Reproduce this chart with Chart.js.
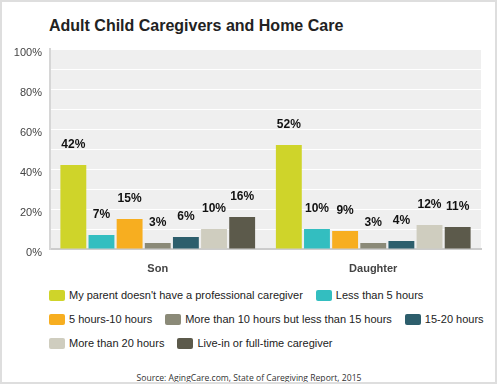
<!DOCTYPE html>
<html>
<head>
<meta charset="utf-8">
<script src="https://cdn.jsdelivr.net/npm/chart.js@4.4.1/dist/chart.umd.min.js"></script>
<style>
    body { margin: 0; background: #fff; }
    #wrap { position: relative; width: 498px; height: 385px; overflow: hidden; font-family: "Liberation Sans", Arial, sans-serif; }
    #frame { position: absolute; left: 0; top: 0; width: 497px; height: 384px; box-sizing: border-box; border: 2px solid #dedede; pointer-events: none; }
    #title { position: absolute; left: 49px; top: 18px; font-size: 16px; line-height: 16px; font-weight: bold; color: #222; white-space: nowrap; }
    #chartBox { position: absolute; left: 0; top: 0; width: 498px; height: 280px; }
    #legend { position: absolute; left: 49px; top: 289px; width: 445px; display: flex; flex-wrap: wrap; row-gap: 12px; column-gap: 13px; }
    .item { display: flex; align-items: center; height: 12px; font-size: 11px; color: #222; white-space: nowrap; }
    .swatch { width: 16px; height: 11px; border-radius: 2px; margin-right: 4px; }
    #source { position: absolute; left: 0; width: 498px; top: 372px; text-align: center; font-family: "Open Sans", sans-serif; font-size: 8.6px; line-height: 12px; color: #333; }
</style>
</head>
<body>
<div id="wrap">
    <div id="title">Adult Child Caregivers and Home Care</div>
    <div id="chartBox"><canvas id="careChart"></canvas></div>
    <div id="legend"></div>
    <div id="source">Source: AgingCare.com, State of Caregiving Report, 2015</div>
    <div id="frame"></div>
</div>
<script>
// Chart data
const categories = ['Son', 'Daughter'];
const seriesNames = [
    "My parent doesn't have a professional caregiver",
    'Less than 5 hours',
    '5 hours-10 hours',
    'More than 10 hours but less than 15 hours',
    '15-20 hours',
    'More than 20 hours',
    'Live-in or full-time caregiver'
];
const seriesColors = ['#cfd42a', '#33bec0', '#f7ae20', '#8b8a78', '#2d5e6c', '#cfcdbf', '#5c5a4b'];
const sonValues = [42, 7, 15, 3, 6, 10, 16];
const daughterValues = [52, 10, 9, 3, 4, 12, 11];
const yTicks = [0, 20, 40, 60, 80, 100];

// grey plot background
const plotBackground = {
    id: 'plotBackground',
    beforeDraw(chart) {
        const { ctx, chartArea } = chart;
        ctx.save();
        ctx.fillStyle = '#efefef';
        ctx.fillRect(chartArea.left, chartArea.top, chartArea.right - chartArea.left, chartArea.bottom - chartArea.top);
        ctx.restore();
    }
};

// percent labels above bars
const valueLabels = {
    id: 'valueLabels',
    afterDatasetsDraw(chart) {
        const ctx = chart.ctx;
        ctx.save();
        ctx.font = 'bold 12px "Liberation Sans", Arial, sans-serif';
        ctx.fillStyle = '#111';
        ctx.textAlign = 'center';
        ctx.textBaseline = 'middle';
        chart.data.datasets.forEach((ds, i) => {
            chart.getDatasetMeta(i).data.forEach((bar, j) => {
                ctx.fillText(ds.data[j] + '%', bar.x, bar.y - 20);
            });
        });
        ctx.restore();
    }
};

const datasets = seriesNames.map((name, i) => ({
    label: name,
    data: [sonValues[i], daughterValues[i]],
    backgroundColor: seriesColors[i],
    borderWidth: 0,
    categoryPercentage: 0.914,
    barPercentage: 0.92
}));

const ctx = document.getElementById('careChart').getContext('2d');
const careChart = new Chart(ctx, {
    type: 'bar',
    data: { labels: categories, datasets: datasets },
    options: {
        responsive: true,
        maintainAspectRatio: false,
        animation: false,
        layout: { padding: { top: 49, right: 17, left: 0, bottom: 0 } },
        plugins: {
            legend: { display: false },
            tooltip: { enabled: false }
        },
        scales: {
            x: {
                grid: { display: false, drawTicks: false },
                border: { display: true, color: '#cccccc', width: 2 },
                ticks: {
                    padding: 13,
                    color: '#444',
                    font: { family: '"Liberation Sans", Arial, sans-serif', size: 11, weight: 'bold' }
                },
                afterFit(scale) { scale.height = 31; }
            },
            y: {
                min: 0,
                max: 100,
                grid: { color: '#ffffff', lineWidth: 1, drawTicks: false },
                border: { display: true, color: '#d6d6d6', width: 2 },
                ticks: {
                    stepSize: 10,
                    padding: 8,
                    labelOffset: 4,
                    autoSkip: false,
                    color: '#444',
                    font: { family: '"Liberation Sans", Arial, sans-serif', size: 11 },
                    callback: value => yTicks.includes(value) ? value + '%' : ''
                },
                afterFit(scale) { scale.width = 50; }
            }
        }
    },
    plugins: [plotBackground, valueLabels]
});

// legend built from the same series
document.getElementById('legend').innerHTML = seriesNames.map((name, i) => `
    <div class="item"><span class="swatch" style="background:${seriesColors[i]}"></span>${name}</div>
`).join('');
</script>
</body>
</html>
